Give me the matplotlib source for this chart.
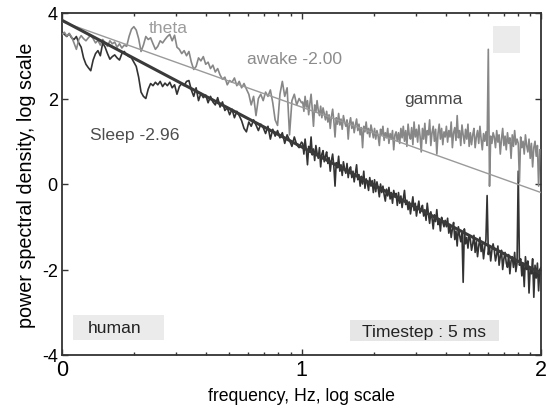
import numpy as np
import matplotlib.pyplot as plt
from matplotlib.patches import Rectangle

plt.rcParams['font.family'] = ['Liberation Sans', 'DejaVu Sans']

# log10 power, coarse part: log10 f = 0.00 .. 1.00 in steps of 0.01
awake_lo = [3.50, 3.55, 3.46, 3.52, 3.44, 3.30, 3.15, 3.38, 3.47, 3.40,
            3.35, 3.42, 3.48, 3.40, 3.30, 3.36, 3.25, 3.38, 3.30, 3.22,
            3.35, 3.28, 3.32, 3.20, 3.28, 3.18, 3.25, 3.22, 3.45, 3.62,
            3.68, 3.60, 3.40, 3.10, 3.25, 3.45, 3.38, 3.42, 3.28, 3.15,
            3.22, 3.35, 3.30, 3.38, 3.45, 3.50, 3.35, 3.48, 3.20, 3.15,
            3.05, 3.12, 3.00, 3.10, 2.85, 2.68, 2.75, 2.95, 2.88, 2.98,
            2.80, 2.85, 2.70, 2.78, 2.62, 2.70, 2.55, 2.45, 2.50, 2.32,
            2.42, 2.38, 2.48, 2.30, 2.40, 2.25, 2.35, 2.22, 2.10, 1.85,
            2.05, 1.60, 2.00, 2.10, 1.95, 2.15, 2.05, 2.20, 1.90, 1.50,
            1.37, 2.10, 2.40, 2.05, 2.25, 1.15, 1.95, 2.10, 1.85, 2.00,
            1.90]
sleep_lo = [3.55, 3.50, 3.45, 3.52, 3.42, 3.38, 3.45, 3.30, 3.20, 2.95,
            2.80, 2.72, 2.65, 2.90, 3.05, 3.12, 3.00, 3.30, 3.20, 3.05,
            2.92, 2.98, 3.02, 2.95, 2.90, 3.05, 3.10, 3.02, 2.98, 2.95,
            2.85, 2.75, 2.50, 2.15, 2.05, 2.00, 2.22, 2.35, 2.30, 2.38,
            2.32, 2.40, 2.28, 2.36, 2.30, 2.38, 2.25, 2.32, 2.10, 2.28,
            2.35, 2.30, 2.40, 2.42, 2.20, 2.05, 2.25, 1.95, 2.12, 2.02,
            2.08, 1.90, 2.05, 1.92, 1.85, 2.02, 1.80, 1.92, 1.72, 1.78,
            1.62, 1.75, 1.55, 1.70, 1.60, 1.48, 1.30, 1.22, 1.45, 1.35,
            1.50, 1.38, 1.25, 1.40, 1.32, 1.18, 1.35, 1.05, 1.28, 1.12,
            1.25, 1.08, 1.20, 0.95, 1.15, 1.02, 0.88, 1.10, 0.92, 0.85,
            0.98]

# fine part: log10 f from 1.005 in steps of 0.005
awake_hi = [1.92, 1.70, 2.05, 1.80, 1.95, 1.62, 1.88, 2.10, 1.75, 1.35,
            1.85, 1.68, 1.95, 1.72, 1.60, 1.82, 1.55, 1.78, 1.65, 1.50,
            1.70, 1.45, 1.62, 1.30, 1.58, 1.75, 1.48, 1.10, 1.55, 1.40,
            1.65, 1.38, 1.52, 1.28, 1.60, 1.45, 1.35, 1.50, 1.05, 1.42,
            1.55, 1.30, 1.45, 1.20, 1.38, 1.52, 1.25, 1.40, 1.15, 1.32,
            0.85, 1.35, 1.22, 1.45, 1.18, 1.30, 1.10, 1.38, 1.25, 1.08,
            1.30, 1.05, 1.25, 1.12, 0.90, 1.28, 1.15, 1.35, 1.02, 1.20,
            1.08, 1.30, 0.95, 1.18, 1.05, 1.25, 0.80, 1.15, 1.22, 1.00,
            1.20, 0.95, 1.30, 1.08, 1.35, 1.00, 1.25, 0.88, 1.40, 1.15,
            1.05, 1.32, 0.92, 1.45, 1.10, 1.28, 0.98, 1.38, 1.12, 0.75,
            1.30, 1.05, 1.42, 0.95, 1.25, 1.15, 1.50, 0.90, 1.20, 1.35,
            1.00, 1.28, 0.70, 1.18, 1.40, 1.05, 1.30, 0.92, 1.22, 1.10,
            1.35, 0.98, 1.25, 1.10, 1.45, 0.85, 1.20, 1.32, 1.02, 1.60,
            1.08, 1.25, 0.90, 1.38, 1.15, 0.95, 1.28, 1.05, 1.40, 0.88,
            1.20, 0.92, 1.15, 1.30, 0.85, 1.10, 1.25, 0.95, 1.35, 1.05,
            0.80, 1.18, 1.00, 1.22, 0.90, 3.15, -0.05, 1.12, 0.95, 1.20,
            1.10, 0.85, 1.25, 0.98, 1.15, 0.70, 1.05, 1.30, 0.90, 1.12,
            0.80, 1.20, 0.95, 1.08, 0.60, 1.15, 0.88, 1.25, 0.92, 1.05,
            0.95, 0.05, 1.10, 0.85, 1.00, 0.70, 1.15, 0.90, 0.75, 1.05,
            0.60, 0.95, 0.40, 0.85, 1.00, 0.65, 0.90, -0.05, 0.80]
sleep_hi = [0.95, 0.70, 1.05, 0.80, 0.45, 0.88, 0.75, 1.10, 0.68, 0.82,
            0.55, 0.90, 0.72, 0.60, 0.85, 0.40, 0.70, 0.78, 0.52, 0.65,
            0.75, 0.48, 0.62, 0.30, 0.55, 0.70, 0.42, -0.05, 0.50, 0.38,
            0.65, 0.30, 0.45, 0.20, 0.52, 0.35, 0.25, 0.48, 0.15, 0.35,
            0.40, 0.15, 0.30, 0.05, 0.25, 0.45, 0.10, 0.22, -0.05, 0.18,
            0.00, 0.30, -0.10, 0.12, 0.02, -0.15, 0.15, -0.05, 0.08, -0.20,
            0.10, -0.18, 0.05, -0.10, -0.30, 0.00, -0.20, -0.05, -0.25, -0.40,
            -0.12, -0.28, -0.08, -0.35, -0.20, -0.45, -0.15, -0.30, -0.22, -0.50,
            -0.20, -0.45, -0.28, -0.55, -0.35, -0.15, -0.48, -0.38, -0.60, -0.42,
            -0.70, -0.50, -0.30, -0.62, -0.45, -0.75, -0.55, -0.40, -0.68, -0.58,
            -0.50, -0.75, -0.60, -0.85, -0.45, -0.70, -0.92, -0.65, -0.80, -1.05,
            -0.72, -0.88, -0.60, -0.95, -0.82, -1.10, -0.78, -0.90, -1.00, -0.85,
            -1.00, -0.80, -1.15, -0.95, -1.25, -1.05, -0.90, -1.30, -1.10, -1.45,
            -1.00, -1.20, -1.35, -1.15, -2.30, -1.05, -1.40, -1.25, -1.50, -1.20,
            -1.30, -1.55, -1.40, -1.20, -1.60, -1.35, -1.70, -1.45, -1.25, -1.58,
            -1.40, -1.75, -1.50, -1.30, -0.27, -1.65, -1.45, -1.80, -1.55, -1.40,
            -1.55, -1.80, -1.65, -1.45, -1.90, -1.70, -1.55, -2.00, -1.75, -1.60,
            -1.85, -1.95, -1.65, -2.10, -1.80, -1.70, -1.95, -1.60, -2.05, -1.85,
            0.30, -1.90, -1.75, -2.15, -1.85, -2.40, -1.70, -2.00, -1.80, -2.55,
            -1.95, -2.10, -1.75, -2.65, -1.90, -2.20, -1.85, -2.50, -2.00, -1.95]

# fitted power laws
awake_slope, awake_icpt = -2.00, 3.80
sleep_slope, sleep_icpt = -2.96, 3.83

lo_x = np.linspace(0, 1, len(awake_lo))
awake_x = np.concatenate([lo_x, 1.005 + 0.005 * np.arange(len(awake_hi))])
sleep_x = np.concatenate([lo_x, 1.005 + 0.005 * np.arange(len(sleep_hi))])
awake_y = np.array(awake_lo + awake_hi)
sleep_y = np.array(sleep_lo + sleep_hi)

fig = plt.figure(figsize=(5.49, 4.10), dpi=100)
ax = fig.add_axes([62 / 549, 1 - 356 / 410, 479 / 549, 342 / 410])

# grey label boxes
ax.add_patch(Rectangle((0.046, -3.66), 0.38, 0.59, color='#ebebeb', lw=0, zorder=0))
ax.add_patch(Rectangle((1.203, -3.68), 0.622, 0.49, color='#e6e6e6', lw=0, zorder=0))
ax.add_patch(Rectangle((1.80, 3.07), 0.112, 0.63, color='#ebebeb', lw=0, zorder=0))

ax.plot(sleep_x, sleep_y, color='#333333', lw=1.2, zorder=2)
ax.plot(awake_x, awake_y, color='#878787', lw=1.2, zorder=3)

fx = np.array([0, 2])
ax.plot(fx, awake_icpt + awake_slope * fx, color='#9a9a9a', lw=1.0, zorder=4)
ax.plot(fx, sleep_icpt + sleep_slope * fx, color='#3a3a3a', lw=2.2, zorder=5)

ax.text(0.443, 3.66, 'theta', color='#9c9c9c', fontsize=12.6, ha='center', va='center')
ax.text(0.969, 2.93, f'awake {awake_slope:.2f}', color='#8c8c8c', fontsize=12.6,
        ha='center', va='center')
ax.text(1.549, 2.0, 'gamma', color='#4a4a4a', fontsize=12.6, ha='center', va='center')
ax.text(0.305, 1.16, f'Sleep {sleep_slope:.2f}', color='#4d4d4d', fontsize=12.6,
        ha='center', va='center')
ax.text(0.221, -3.35, 'human', color='#222222', fontsize=12.6, ha='center', va='center')
ax.text(1.511, -3.45, 'Timestep : 5 ms', color='#222222', fontsize=12.6,
        ha='center', va='center')

ax.set_xlim(0, 2)
ax.set_ylim(-4, 4)
ax.set_xticks([0, 1, 2])
ax.set_xticklabels(['0', '1', '2'], fontsize=15.5)
ax.set_xticks([d + np.log10(k) for d in (0, 1) for k in range(2, 10)], minor=True)
ax.set_yticks([-4, -2, 0, 2, 4])
ax.set_yticklabels(['-4', '-2', '0', '2', '4'], fontsize=13)
ax.tick_params(which='both', direction='in', top=True, right=True, width=1.0, color='#333333')
ax.tick_params(which='major', length=4.5)
ax.tick_params(which='minor', length=2.5)
ax.tick_params(axis='x', pad=3)
ax.tick_params(axis='y', pad=3)
for s in ax.spines.values():
    s.set_linewidth(1.3)
    s.set_color('#333333')

ax.set_xlabel('frequency, Hz, log scale', fontsize=12.7, labelpad=5)
ax.set_ylabel('power spectral density, log scale', fontsize=14.2, labelpad=4)

fig.savefig('out.png', dpi=100)
